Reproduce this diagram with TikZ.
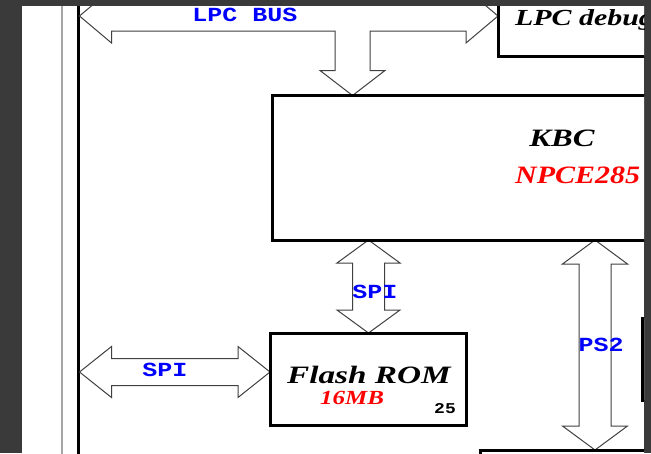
\documentclass[tikz,border=0pt]{standalone}
\usepackage{fontspec}
\usepackage{graphicx}
\setmainfont{Liberation Serif}
\setmonofont{Liberation Mono}
\usetikzlibrary{calc}
\definecolor{bgdark}{RGB}{58,58,58}
\newcommand\wtxt[2]{\scalebox{#1}[1]{#2}}
\newcommand\vdarrow[5]{%
 \draw[blk] (#1) -- ($(#1)+(#4,#5)$) -- ($(#1)+(#3,#5)$) -- ($(#2)+(#3,-#5)$) -- ($(#2)+(#4,-#5)$) -- (#2) -- ($(#2)+(-#4,-#5)$) -- ($(#2)+(-#3,-#5)$) -- ($(#1)+(-#3,#5)$) -- ($(#1)+(-#4,#5)$) -- cycle;}
\newcommand\hdarrow[5]{%
 \draw[blk] (#1) -- ($(#1)+(#5,-#4)$) -- ($(#1)+(#5,-#3)$) -- ($(#2)+(-#5,-#3)$) -- ($(#2)+(-#5,-#4)$) -- (#2) -- ($(#2)+(-#5,#4)$) -- ($(#2)+(-#5,#3)$) -- ($(#1)+(#5,#3)$) -- ($(#1)+(#5,#4)$) -- cycle;}
\tikzset{
 box/.style={draw=black, line width=3pt, fill=white, inner sep=0pt, outer sep=0pt},
 blk/.style={draw=black!75, line width=1pt, fill=white, line join=miter},
 buslbl/.style={text=blue, inner sep=0pt, font=\fontsize{20}{20}\selectfont\ttfamily\bfseries},
 titlelbl/.style={text=black, inner sep=0pt, font=\fontsize{25}{25}\selectfont\bfseries\itshape},
 partlbl/.style={text=red, inner sep=0pt, font=\fontsize{25}{25}\selectfont\bfseries\itshape},
}
\begin{document}
\begin{tikzpicture}[x=1pt,y=-1pt]
\useasboundingbox (0,0) rectangle (651,453);
\fill[bgdark] (0,0) rectangle (651,453);
\fill[white] (22,6) rectangle (644,453);
\begin{scope}
\clip (22,6) rectangle (644,453);
% page rails
\draw[gray!70, line width=1.2pt] (62,0) -- (62,460);
\draw[black, line width=3pt] (78,0) -- (78,460);
% boxes (geometry)
\node[box, anchor=north west, minimum width=450pt, minimum height=144.5pt] (kbc) at (272.5,95.5) {};
\node[box, anchor=north west, minimum width=250pt, minimum height=80pt] (dbg) at (498,-24) {};
\node[box, anchor=north west, minimum width=196pt, minimum height=92pt] (flash) at (270,333) {};
\node[box, anchor=north west, minimum width=100pt, minimum height=82pt] (rbox) at (642,318) {};
\node[box, anchor=north west, minimum width=250pt, minimum height=60pt] (bbox) at (480,450) {};
% arrow anchors
\coordinate (busL) at (79.5,16);
\coordinate (busR) at (dbg.west |- busL);
\path (352.5,0) coordinate (busx) (368.5,0) coordinate (spix) (595,0) coordinate (ps2x);
\coordinate (busD) at (kbc.north -| busx);
\coordinate (spiT) at (kbc.south -| spix);
\coordinate (spiB) at (flash.north -| spix);
\coordinate (ps2T) at (kbc.south -| ps2x);
\coordinate (ps2B) at (bbox.north -| ps2x);
\coordinate (lspiL) at (79.5,372);
\coordinate (lspiR) at (flash.west |- lspiL);
% LPC bus T arrow
\draw[blk] (busL) -- ($(busL)+(32,-27)$) -- ($(busL)+(32,-15)$) -- ($(busR)+(-32,-15)$) -- ($(busR)+(-32,-27)$) -- (busR)
  -- ($(busR)+(-32,27)$) -- ($(busR)+(-32,15)$) -- ($(busx|-busL)+(17.5,15)$) -- ($(busD)+(17.5,-25)$) -- ($(busD)+(32.5,-25)$)
  -- (busD) -- ($(busD)+(-32.5,-25)$) -- ($(busD)+(-17.5,-25)$) -- ($(busx|-busL)+(-17.5,15)$) -- ($(busL)+(32,15)$) -- ($(busL)+(32,27)$) -- cycle;
% double arrows
\vdarrow{spiT}{spiB}{16}{31.5}{23}
\vdarrow{ps2T}{ps2B}{16}{32.5}{24}
\hdarrow{lspiL}{lspiR}{13.5}{25.5}{32}
% redraw box borders on top
\draw[black, line width=3pt] (kbc.south west) -- (kbc.north west) -- (kbc.north east);
\draw[black, line width=3pt] (kbc.south west) -- (kbc.south east);
\draw[black, line width=3pt] (flash.south west) rectangle (flash.north east);
\draw[black, line width=3pt] (dbg.south west) rectangle (dbg.north east);
\draw[black, line width=3pt] (bbox.south west) rectangle (bbox.north east);
% labels
\node[buslbl] (lbus) at (245,15) {\wtxt{1.25}{LPC BUS}};
\node[buslbl] (lspi1) at (165,370) {\wtxt{1.25}{SPI}};
\node[buslbl] (lspi2) at (375,292) {\wtxt{1.25}{SPI}};
\node[buslbl] (lps2) at (601,345) {\wtxt{1.25}{PS2}};
\node[titlelbl, anchor=base west, font=\fontsize{23}{23}\selectfont\bfseries\itshape] (tdbg) at (515,25) {\wtxt{1.3}{LPC debug}};
\node[titlelbl] (tkbc) at (562,138) {\wtxt{1.3}{KBC}};
\node[partlbl, anchor=west] (tnpce) at (515,175) {\wtxt{1.2}{NPCE285}};
\node[titlelbl, anchor=west] (tflash) at (287,375) {\wtxt{1.33}{Flash ROM}};
\node[partlbl, anchor=west, font=\fontsize{20}{20}\selectfont\bfseries\itshape] (t16) at (320,398) {\wtxt{1.25}{16MB}};
\node[text=black, inner sep=0pt, font=\fontsize{15}{15}\selectfont\ttfamily\bfseries] (t25) at (445,409) {\wtxt{1.2}{25}};
\end{scope}
\end{tikzpicture}
\end{document}
